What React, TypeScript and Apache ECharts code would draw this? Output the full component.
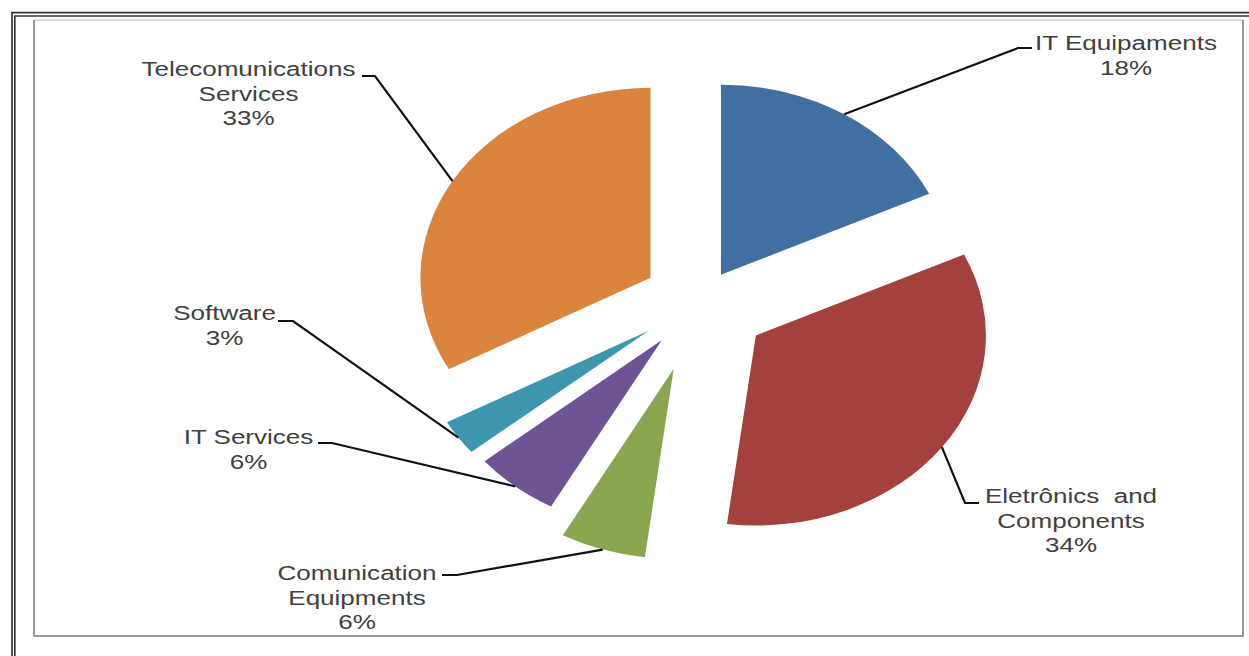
import React, { useEffect, useRef } from "react";
import * as echarts from "echarts";

// ---- data ----
const categories = [
  "IT Equipaments",
  "Eletrônics  and\nComponents",
  "Comunication\nEquipments",
  "IT Services",
  "Software",
  "Telecomunications\nServices",
];
const shares = [18, 34, 6, 6, 3, 33];

// ---- styles / layout ----
const colors = ["#426FA2", "#A4403D", "#89A54E", "#6E5494", "#3D96AE", "#DB843D"];
const explode = [0.17, 0.3, 0.37, 0.26, 0.27, 0.25];
const labelCenter: [number, number][] = [
  [1126, 30.75],
  [1071, 483.75],
  [357, 560.75],
  [248.5, 424.75],
  [224.5, 300.75],
  [248.5, 56.75],
];
const leaderAttach: [number, number][] = [
  [1032, 48],
  [979, 503],
  [442, 575],
  [318, 443],
  [278, 321],
  [362, 76],
];
const leaderElbow: [number, number][] = [
  [1018, 48],
  [965, 503],
  [457, 575],
  [332, 443],
  [293, 321],
  [375, 76],
];
const CX = 700;
const CY = 302;
const RX = 230;
const RY = 190;
const TEXT_SCALE_X = 1.24;

export default function App() {
  const ref = useRef<HTMLDivElement>(null);
  useEffect(() => {
    if (!ref.current) return;
    const chart = echarts.init(ref.current, null, { renderer: "svg" });
    const total = shares.reduce((a, b) => a + b, 0);

    const renderItem = (params: any, api: any) => {
      const i = params.dataIndex;
      let start = 0;
      for (let j = 0; j < i; j++) start += shares[j];
      const v = api.value(0);
      const a0 = (start / total) * 360;
      const a1 = ((start + v) / total) * 360;
      const am = ((a0 + a1) / 2) * (Math.PI / 180);
      const s = Math.sin(am);
      const c = Math.cos(am);
      const ax = CX + explode[i] * RX * s;
      const ay = CY - explode[i] * RY * c;
      const ex = ax + RX * s;
      const ey = ay - RY * c;
      const toRad = (d: number) => ((d - 90) * Math.PI) / 180;
      return {
        type: "group",
        children: [
          {
            type: "sector",
            x: ax,
            y: ay,
            scaleX: RX / RY,
            scaleY: 1,
            shape: {
              cx: 0,
              cy: 0,
              r0: 0,
              r: RY,
              startAngle: toRad(a0),
              endAngle: toRad(a1),
              clockwise: true,
            },
            style: { fill: colors[i] },
          },
          {
            type: "polyline",
            shape: {
              points: [[ex, ey], leaderElbow[i], leaderAttach[i]],
            },
            style: { stroke: "#111111", lineWidth: 2.2, fill: "none" },
          },
          {
            type: "text",
            x: labelCenter[i][0],
            y: labelCenter[i][1],
            scaleX: TEXT_SCALE_X,
            style: {
              text: categories[i] + "\n" + v + "%",
              fill: "#404040",
              fontSize: 21,
              fontFamily: "'Liberation Sans', Arial, sans-serif",
              align: "center",
              verticalAlign: "top",
              lineHeight: 24.5,
            },
          },
        ],
      };
    };

    chart.setOption({
      animation: false,
      backgroundColor: "#ffffff",
      graphic: [
        {
          type: "rect",
          shape: { x: 12, y: 12.7, width: 1300, height: 700 },
          style: { fill: "none", stroke: "#353535", lineWidth: 1.7 },
        },
        {
          type: "rect",
          shape: { x: 14.8, y: 16, width: 1300, height: 700 },
          style: { fill: "none", stroke: "#353535", lineWidth: 1.7 },
        },
        {
          type: "line",
          shape: { x1: 34, y1: 20, x2: 1243, y2: 20 },
          style: { stroke: "#d8d8d8", lineWidth: 2 },
        },
        {
          type: "line",
          shape: { x1: 34, y1: 20, x2: 34, y2: 636 },
          style: { stroke: "#9a9a9a", lineWidth: 2 },
        },
        {
          type: "line",
          shape: { x1: 1243, y1: 20, x2: 1243, y2: 636 },
          style: { stroke: "#9a9a9a", lineWidth: 2 },
        },
        {
          type: "line",
          shape: { x1: 33, y1: 636, x2: 1244, y2: 636 },
          style: { stroke: "#9a9a9a", lineWidth: 2 },
        },
      ],
      series: [
        {
          type: "custom",
          coordinateSystem: "none",
          renderItem,
          data: shares.map((v, i) => ({ name: categories[i], value: [v] })),
        },
      ],
    });
    return () => chart.dispose();
  }, []);
  return (
    <div
      ref={ref}
      style={{ position: "absolute", left: 0, top: 0, width: 1249, height: 656 }}
    />
  );
}
